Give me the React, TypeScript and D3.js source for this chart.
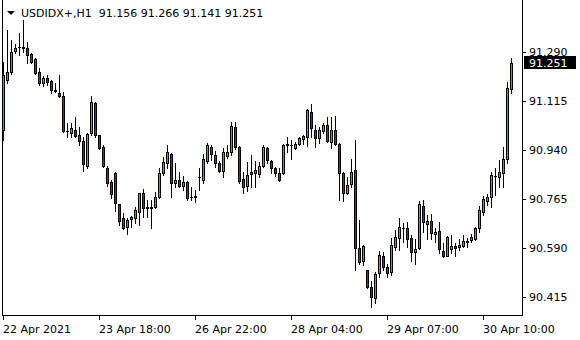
import React from 'react';
import * as d3 from 'd3';

const symbol = 'USDIDX+,H1';
const opens = [91.010,91.189,91.218,91.293,91.305,91.305,91.303,91.282,91.264,91.218,91.178,91.196,91.185,91.153,91.142,91.132,91.007,91.000,91.010,90.992,90.971,90.882,90.999,91.107,90.992,90.950,90.875,90.825,90.857,90.746,90.696,90.664,90.694,90.696,90.718,90.785,90.733,90.735,90.735,90.771,90.857,90.893,90.925,90.821,90.832,90.810,90.825,90.771,90.771,90.841,90.832,90.900,90.950,90.921,90.893,90.864,90.918,90.932,91.021,90.950,90.835,90.810,90.853,90.857,90.853,90.882,90.946,90.900,90.875,90.857,90.857,90.957,90.958,90.946,90.961,90.978,90.985,91.075,91.010,90.982,91.007,91.028,90.967,91.010,90.961,90.857,90.786,90.818,90.868,90.589,90.543,90.510,90.450,90.410,90.500,90.560,90.521,90.503,90.593,90.625,90.660,90.660,90.625,90.575,90.589,90.739,90.675,90.685,90.639,90.650,90.578,90.560,90.586,90.596,90.593,90.596,90.612,90.618,90.621,90.660,90.718,90.757,90.771,90.845,90.843,90.857,90.907,91.156];
const highs = [91.253,91.368,91.332,91.317,91.357,91.403,91.325,91.285,91.267,91.232,91.203,91.207,91.189,91.178,91.207,91.146,91.035,91.035,91.057,91.021,90.985,90.999,91.132,91.110,90.992,90.957,90.882,90.832,90.861,90.746,90.714,90.696,90.703,90.735,90.786,90.800,90.760,90.760,90.789,90.875,90.914,90.957,90.929,90.893,90.861,90.846,90.828,90.807,90.796,90.875,90.925,90.964,90.957,90.936,90.900,90.946,90.957,91.039,91.039,90.953,90.861,90.896,90.921,90.900,90.896,90.957,90.950,90.903,90.879,90.875,90.961,90.985,90.975,90.967,90.985,90.992,91.085,91.103,91.028,91.021,91.035,91.057,91.057,91.060,90.964,90.861,90.843,90.907,90.975,90.689,90.600,90.510,90.471,90.503,90.578,90.575,90.532,90.625,90.653,90.696,90.678,90.682,90.635,90.621,90.757,90.760,90.707,90.710,90.660,90.682,90.607,90.632,90.635,90.607,90.621,90.635,90.625,90.639,90.664,90.739,90.775,90.782,90.861,90.875,90.903,90.950,91.182,91.266];
const lows = [90.975,91.178,91.211,91.285,91.278,91.289,91.250,91.250,91.210,91.171,91.167,91.171,91.142,91.146,91.128,91.003,90.985,90.985,90.985,90.957,90.864,90.875,90.992,90.985,90.942,90.879,90.810,90.768,90.721,90.671,90.657,90.639,90.664,90.678,90.671,90.700,90.700,90.660,90.732,90.768,90.850,90.875,90.771,90.807,90.807,90.796,90.760,90.760,90.753,90.796,90.821,90.893,90.903,90.879,90.861,90.843,90.911,90.921,90.942,90.821,90.785,90.793,90.807,90.807,90.843,90.879,90.893,90.857,90.846,90.828,90.853,90.932,90.907,90.944,90.957,90.961,90.953,90.985,90.950,90.964,91.000,90.967,90.946,90.957,90.760,90.757,90.782,90.807,90.510,90.532,90.528,90.446,90.378,90.392,90.485,90.510,90.485,90.493,90.582,90.582,90.611,90.593,90.543,90.532,90.586,90.646,90.621,90.621,90.611,90.571,90.557,90.560,90.571,90.560,90.582,90.593,90.593,90.611,90.618,90.646,90.707,90.743,90.735,90.778,90.807,90.807,90.893,91.141];
const closes = [91.207,91.218,91.289,91.303,91.306,91.302,91.278,91.253,91.214,91.178,91.196,91.182,91.153,91.151,91.132,91.007,91.006,91.017,90.989,90.971,90.889,90.996,91.110,90.992,90.946,90.882,90.821,90.782,90.750,90.685,90.660,90.689,90.700,90.725,90.785,90.732,90.735,90.733,90.771,90.857,90.896,90.932,90.821,90.832,90.810,90.825,90.768,90.770,90.775,90.843,90.907,90.957,90.925,90.893,90.864,90.932,90.932,91.025,90.950,90.828,90.807,90.850,90.861,90.868,90.882,90.950,90.903,90.875,90.857,90.832,90.957,90.961,90.957,90.961,90.982,90.989,91.082,91.017,90.982,91.010,91.028,90.971,91.010,90.961,90.857,90.786,90.814,90.861,90.589,90.539,90.596,90.450,90.414,90.496,90.564,90.521,90.500,90.600,90.628,90.664,90.659,90.621,90.575,90.586,90.746,90.682,90.685,90.643,90.646,90.586,90.560,90.628,90.596,90.589,90.600,90.614,90.614,90.628,90.660,90.725,90.764,90.771,90.850,90.847,90.861,90.907,91.160,91.251];

const priceTicks = [91.290, 91.115, 90.940, 90.765, 90.590, 90.415];
const timeLabels = ['22 Apr 2021', '23 Apr 18:00', '26 Apr 22:00', '28 Apr 04:00', '29 Apr 07:00', '30 Apr 10:00'];
const timeLabelIdx = [0, 24, 48, 72, 96, 120];

const UP = '#00e000';
const DOWN = '#e00000';
const FONT = 'DejaVu Sans, Verdana, sans-serif';

export default function App() {
  const W = 580, H = 340;
  const n = opens.length;
  const x = d3.scaleLinear().domain([0, n - 1]).range([3, 511]);
  const y = d3.scaleLinear().domain([90.415, 91.29]).range([296.7, 51.7]);
  const plotRight = 522;
  const plotBottom = 315;
  const fmt = d3.format('.3f');
  const last = n - 1;

  const candles = d3.range(n).map((i) => {
    const cx = Math.round(x(i));
    const o = opens[i], c = closes[i];
    const top = Math.round(y(Math.max(o, c)));
    const bot = Math.round(y(Math.min(o, c)));
    const hy = Math.round(y(highs[i]));
    const ly = Math.round(y(lows[i]));
    const up = c >= o;
    return (
      <g key={i}>
        <rect x={cx} y={hy} width={1} height={ly - hy + 1} fill="#000" />
        <rect x={cx - 1} y={top} width={3} height={Math.max(1, bot - top + 1)} fill="#000" />
        {bot - top >= 2 && (
          <rect x={cx} y={top + 1} width={1} height={bot - top - 1} fill={up ? UP : DOWN} />
        )}
      </g>
    );
  });

  const lastY = y(closes[last]);

  return (
    <div style={{ position: 'fixed', left: 0, top: 0, width: W, height: H, background: '#fff' }}>
      <svg width={W} height={H} style={{ display: 'block' }} shapeRendering="crispEdges">
        <rect x={0} y={0} width={W} height={H} fill="#fff" />
        {candles}
        {/* frame */}
        <rect x={2} y={0} width={1} height={plotBottom + 1} fill="#000" />
        <rect x={plotRight} y={0} width={1} height={plotBottom + 1} fill="#000" />
        <rect x={2} y={plotBottom} width={plotRight - 1} height={1} fill="#000" />
        {/* price axis */}
        {priceTicks.map((t) => {
          const ty = Math.round(y(t));
          return (
            <g key={t}>
              <rect x={plotRight + 1} y={ty} width={3} height={1} fill="#000" />
              <text x={529} y={ty + 4} fontFamily={FONT} fontSize={11} fill="#000">{fmt(t)}</text>
            </g>
          );
        })}
        <rect x={524} y={Math.round(lastY) - 7} width={52} height={13} fill="#000" />
        <text x={529} y={Math.round(lastY) + 4} fontFamily={FONT} fontSize={11} fill="#fff">{fmt(closes[last])}</text>
        {/* time axis */}
        {timeLabelIdx.map((idx, k) => {
          const tx = Math.round(x(idx));
          return (
            <g key={idx}>
              <rect x={tx} y={plotBottom + 1} width={1} height={4} fill="#000" />
              <text x={tx} y={333} fontFamily={FONT} fontSize={11} fill="#000">{timeLabels[k]}</text>
            </g>
          );
        })}
        {/* header */}
        <path d="M7,11 L15,11 L11,15 Z" fill="#000" shapeRendering="auto" />
        <text x={21} y={17} fontFamily={FONT} fontSize={11} fill="#000" style={{ whiteSpace: 'pre' }}>
          {`${symbol}  ${fmt(opens[last])} ${fmt(highs[last])} ${fmt(lows[last])} ${fmt(closes[last])}`}
        </text>
      </svg>
    </div>
  );
}
